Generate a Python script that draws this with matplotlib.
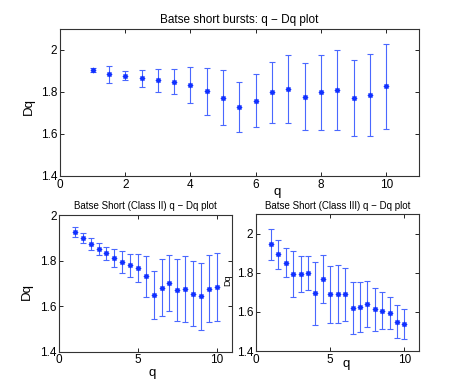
import numpy as np
import matplotlib
matplotlib.use('Agg')
import matplotlib.pyplot as plt

plt.rcParams['font.family'] = ['Liberation Sans', 'DejaVu Sans']

q = np.arange(1, 10.5, 0.5)

# all short bursts
dq_all = [1.905, 1.883, 1.878, 1.864, 1.855, 1.848, 1.831, 1.802, 1.773, 1.727,
          1.758, 1.798, 1.812, 1.778, 1.798, 1.809, 1.772, 1.786, 1.827]
err_all = [0.010, 0.042, 0.021, 0.042, 0.054, 0.059, 0.086, 0.110, 0.130, 0.120,
           0.127, 0.146, 0.162, 0.161, 0.179, 0.189, 0.181, 0.196, 0.203]

# class II
dq_c2 = [1.927, 1.898, 1.873, 1.851, 1.832, 1.811, 1.792, 1.780, 1.766, 1.731,
         1.649, 1.681, 1.701, 1.671, 1.674, 1.655, 1.643, 1.677, 1.685]
err_c2 = [0.022, 0.022, 0.026, 0.027, 0.029, 0.038, 0.048, 0.050, 0.062, 0.091,
          0.106, 0.124, 0.122, 0.138, 0.145, 0.143, 0.146, 0.147, 0.149]

# class III
dq_c3 = [1.947, 1.895, 1.853, 1.796, 1.796, 1.799, 1.695, 1.769, 1.690, 1.691,
         1.690, 1.621, 1.625, 1.642, 1.614, 1.607, 1.594, 1.551, 1.537]
err_c3 = [0.079, 0.073, 0.076, 0.117, 0.093, 0.089, 0.160, 0.123, 0.147, 0.149,
          0.136, 0.134, 0.129, 0.118, 0.110, 0.094, 0.081, 0.085, 0.078]

blue = '#4a68ff'


def draw(ax, dq, err, title, yticks, ylim, xticks, title_size):
    ax.errorbar(q, dq, yerr=err, fmt='none', ecolor=blue,
                elinewidth=0.8, capsize=2.2, capthick=0.8)
    ax.plot(q, dq, linestyle='none', marker=(8, 2, 0), color='#1030ff',
            markersize=3.8, markeredgewidth=0.8)
    ax.set_xlim(0, 11)
    ax.set_ylim(*ylim)
    ax.set_xticks(xticks)
    ax.set_yticks(yticks)
    ax.set_yticklabels([('%g' % v) for v in yticks])
    ax.tick_params(direction='in', top=True, right=True, labelsize=8.5,
                   length=3, width=0.6, pad=2)
    for s in ax.spines.values():
        s.set_linewidth(0.8)
        s.set_color('#333333')
    ax.set_title(title, fontsize=title_size, pad=4)


fig = plt.figure(figsize=(4.63, 3.85), dpi=100)

ax1 = fig.add_axes([0.1296, 0.543, 0.775, 0.382])
draw(ax1, dq_all, err_all, 'Batse short bursts: q \u2212 Dq plot',
     [1.4, 1.6, 1.8, 2.0], (1.4, 2.1), [0, 2, 4, 6, 8, 10], 8.5)
ax1.set_xlabel('q', fontsize=9.5)
ax1.xaxis.set_label_coords(0.604, -0.066)
ax1.set_ylabel('Dq', fontsize=9.5)
ax1.yaxis.set_label_coords(-0.07, 0.47)

ax2 = fig.add_axes([0.128, 0.0865, 0.3737, 0.355])
draw(ax2, dq_c2, err_c2, 'Batse Short (Class II) q \u2212 Dq plot',
     [1.4, 1.6, 1.8, 2.0], (1.4, 2.0), [0, 5, 10], 7)
ax2.set_xlabel('q', fontsize=9.5)
ax2.xaxis.set_label_coords(0.536, -0.113)
ax2.set_ylabel('Dq', fontsize=9.5)
ax2.yaxis.set_label_coords(-0.152, 0.44)

ax3 = fig.add_axes([0.553, 0.0883, 0.3527, 0.355])
draw(ax3, dq_c3, err_c3, 'Batse Short (Class III) q \u2212 Dq plot',
     [1.4, 1.6, 1.8, 2.0], (1.4, 2.1), [0, 5, 10], 7)
ax3.set_xlabel('q', fontsize=9.5)
ax3.xaxis.set_label_coords(0.551, -0.053)
ax3.set_ylabel('Dq', fontsize=6.5)
ax3.yaxis.set_label_coords(-0.147, 0.52)

fig.savefig('out.png', dpi=100)
